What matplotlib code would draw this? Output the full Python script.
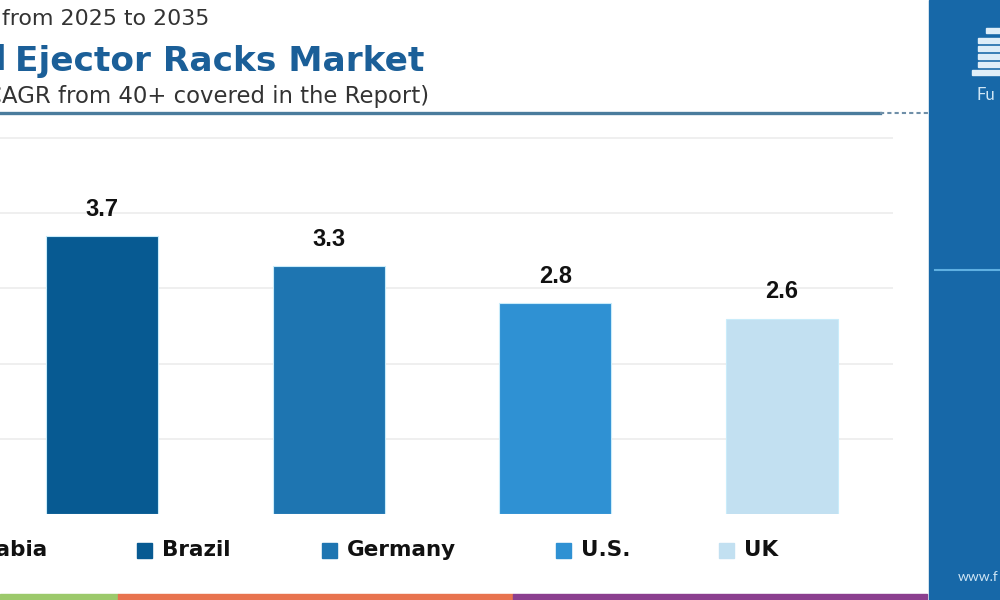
import numpy as np
import matplotlib.pyplot as plt
from matplotlib.patches import Rectangle

countries = ["Brazil", "Germany", "U.S.", "UK"]
cagr = [3.7, 3.3, 2.8, 2.6]
colors = ["#075a92", "#1e75b1", "#2f91d3", "#c2e0f1"]
hidden_entry = "Saudi Arabia"

W, H = 1000, 600
fig = plt.figure(figsize=(10, 6), dpi=100)
fig.patch.set_facecolor("white")
renderer = fig.canvas.get_renderer()


def fx(px):
    return px / W


def fy(py):
    return 1 - py / H


def fit(t, width_px):
    # scale font so the text spans width_px pixels
    w = t.get_window_extent(renderer).width
    t.set_fontsize(t.get_fontsize() * width_px / w)
    return t


# plot area
ax = fig.add_axes([0, fy(514), fx(893), fy(123) - fy(514)])
x = np.arange(len(countries)) + 1
bars = ax.bar(x, cagr, width=0.495, color=colors, edgecolor="#c9ecfa",
              linewidth=0.8, zorder=3)
for xi, v in zip(x, cagr):
    ax.text(xi, v + 0.2, f"{v}", ha="center", va="bottom", fontsize=17,
            fontweight="bold", family="Liberation Sans", color="#111111")
ax.set_xlim(0.55, 4.49)
ax.set_ylim(0, 5.2)
ax.set_yticks([1, 2, 3, 4, 5])
ax.yaxis.grid(True, color="#ececec", lw=1.2)
ax.set_axisbelow(True)
ax.tick_params(left=False, bottom=False, labelleft=False, labelbottom=False)
for s in ax.spines.values():
    s.set_visible(False)

# header
t = fig.text(fx(2), fy(19), "from 2025 to 2035", ha="left", va="center",
             fontsize=15, family="DejaVu Sans", color="#333333")
fit(t, 208)
t = fig.text(fx(15), fy(61), "Ejector Racks Market", ha="left",
             va="center", fontsize=25, fontweight="bold", family="DejaVu Sans",
             color="#1b5f98")
fit(t, 410)
fs_title = t.get_fontsize()
fig.text(fx(8), fy(61), "Industrial", ha="right", va="center",
         fontsize=fs_title, fontweight="bold", family="DejaVu Sans",
         color="#1b5f98")
t = fig.text(fx(2), fy(96), "AGR from 40+ covered in the Report)", ha="left",
             va="center", fontsize=15, family="DejaVu Sans", color="#333333")
fit(t, 428)
fig.text(fx(2), fy(96), "(C", ha="right", va="center",
         fontsize=t.get_fontsize(), family="DejaVu Sans", color="#333333")
fig.add_artist(plt.Line2D([0, fx(880)], [fy(113), fy(113)], color="#4a7c9d",
                          lw=2.4))
fig.add_artist(plt.Line2D([fx(880), fx(930)], [fy(113), fy(113)],
                          color="#6f8fa8", lw=1.5, ls=(0, (2, 1.5))))

# legend row
t = fig.text(fx(47), fy(550), hidden_entry, ha="right", va="center",
             fontsize=15.5, fontweight="bold", family="DejaVu Sans",
             color="#111111")
legend_x = [137, 322, 556, 719]
label_w = [67, 117, 57, 33]
for lx, name, c, lw in zip(legend_x, countries, colors, label_w):
    fig.patches.append(Rectangle((fx(lx), fy(558)), fx(15), fy(543) - fy(558),
                                 transform=fig.transFigure, color=c))
    fig.text(fx(lx + 25), fy(550), name, ha="left", va="center",
             fontsize=15.5, fontweight="bold", family="DejaVu Sans",
             color="#111111")

# bottom colour strip
for x0, x1, c in [(0, 118, "#9cc96b"), (118, 513, "#e8734f"),
                  (513, 927, "#8b3f8f")]:
    fig.patches.append(Rectangle((fx(x0), 0), fx(x1 - x0), fy(594),
                                 transform=fig.transFigure, color=c))

# right brand panel
fig.patches.append(Rectangle((fx(929), 0), fx(71), 1,
                             transform=fig.transFigure, color="#1768a8"))
fig.add_artist(plt.Line2D([fx(935), 1], [fy(270), fy(270)], color="#5fb0e2",
                          lw=1.5))
for y0, w in [(28, 14), (38, 22), (46, 22), (54, 22), (62, 22), (70, 28)]:
    fig.patches.append(Rectangle((fx(1000 - w), fy(y0 + 5)), fx(w), fy(y0) - fy(y0 + 5),
                                 transform=fig.transFigure, color="#dfeef8"))
fig.text(fx(976), fy(95), "Fu", ha="left", va="center", fontsize=12,
         family="Lato", color="#cfe6f5")
fig.text(fx(958), fy(577), "www.f", ha="left", va="center", fontsize=10,
         family="Lato", color="#cfe6f5")

fig.savefig("out.png", dpi=100)
